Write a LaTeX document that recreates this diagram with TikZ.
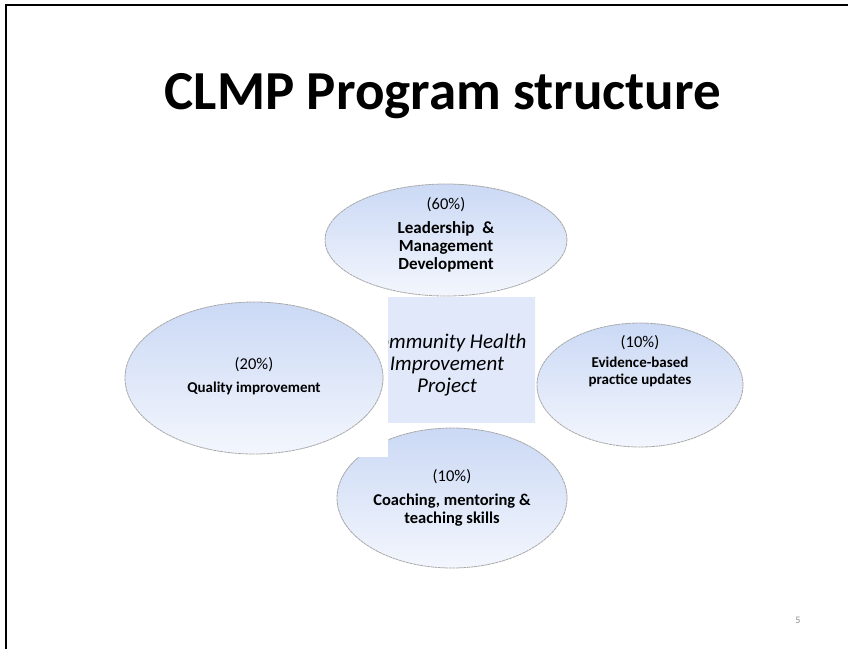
\documentclass[tikz,border=0pt]{standalone}
\usepackage{fontspec}
\setmainfont{Carlito}
\usetikzlibrary{shapes.geometric}

\definecolor{rimgray}{RGB}{168,168,168}
\definecolor{bluetop}{RGB}{203,217,245}
\definecolor{bluebot}{RGB}{243,246,253}
\definecolor{boxtop}{RGB}{224,232,250}
\definecolor{boxmid}{RGB}{245,247,253}
\definecolor{pagegray}{RGB}{140,140,140}

\tikzset{
  part/.style={ellipse, draw=rimgray, line width=0.8pt, dash pattern=on 3pt off 0.6pt,
               top color=bluetop, bottom color=bluebot, inner sep=0pt},
  share/.style={inner sep=0pt, font=\fontsize{16.5}{18}\selectfont},
  topic/.style={inner sep=0pt, align=center, font=\bfseries\fontsize{15}{17}\selectfont},
  bigtopic/.style={topic, font=\bfseries\fontsize{17}{18}\selectfont}
}

\begin{document}
\begin{tikzpicture}[x=1pt,y=-1pt]
\useasboundingbox (0,0) rectangle (848,649);
\fill[white] (0,0) rectangle (848,649);
\draw[line width=2.5pt] (6,649) -- (6,5) -- (848,5);

\node[font=\bfseries\fontsize{55}{66}\selectfont] (title) at (443,96) {CLMP Program structure};

% the four parts of the programme
\node[part, minimum width=230pt, minimum height=140pt] (coach) at (452,498) {};
\fill[white] (335,297) rectangle (388,457);
\node[part, minimum width=258pt, minimum height=152pt] (quality) at (254,378) {};
\node[part, minimum width=242pt, minimum height=112pt] (lead) at (446,240) {};
\node[part, minimum width=206pt, minimum height=124pt] (evidence) at (640,385) {};

\node[share] (leadpct) at (446,205) {(60\%)};
\node[bigtopic] (leadtxt) at (446,247) {Leadership\ \ \&\\ Management\\ Development};
\node[share] (qualitypct) at (254,365) {(20\%)};
\node[topic] (qualitytxt) at (254,388) {Quality improvement};
\node[share] (evidencepct) at (640,343) {(10\%)};
\node[topic] (evidencetxt) at (640,372) {Evidence-based\\ practice updates};
\node[share] (coachpct) at (452,477) {(10\%)};
\node[bigtopic, font=\bfseries\fontsize{16.5}{18}\selectfont] (coachtxt) at (452,510)
  {Coaching, mentoring \&\\ teaching skills};

% project box in the middle, cut on its left side
\begin{scope}
  \clip (388,297) rectangle (535,422);
  \shade[top color=boxtop, middle color=boxmid, bottom color=boxtop] (388,297) rectangle (535,422);
  \node[align=center, font=\itshape\fontsize{21}{22}\selectfont] (project) at (447,365)
    {Community Health\\ Improvement\\ Project};
\end{scope}

\node[text=pagegray, font=\fontsize{10}{12}\selectfont] (page) at (798,620) {5};
\end{tikzpicture}
\end{document}
